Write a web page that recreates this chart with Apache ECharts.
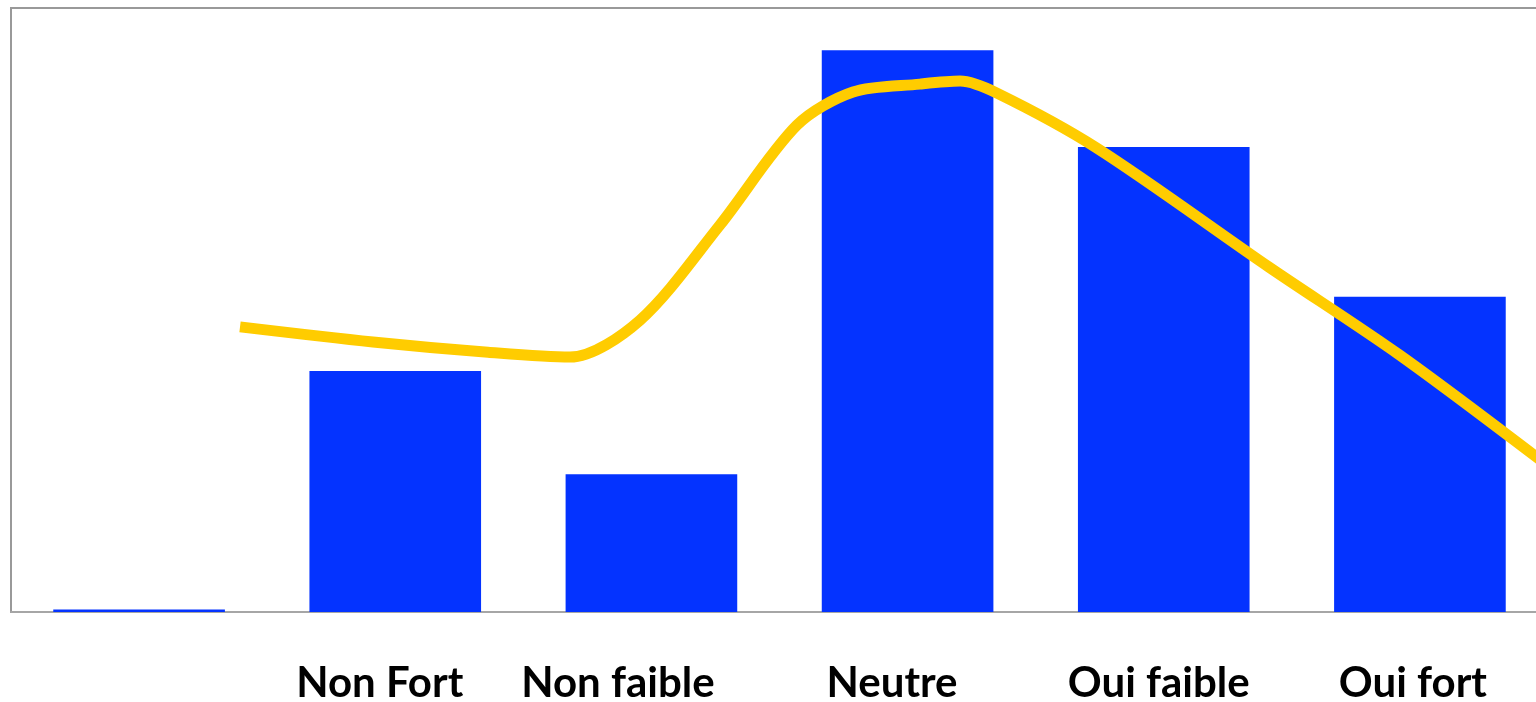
<!DOCTYPE html>
<html>
<head>
<meta charset="utf-8">
<script src="https://cdn.jsdelivr.net/npm/echarts@6/dist/echarts.min.js"></script>
<style>
html,body{margin:0;padding:0;background:#fff;}
#chart{width:1536px;height:702px;}
</style>
</head>
<body>
<div id="chart"></div>
<script>
// Categories (first one has no label)
const categories = ['', 'Non Fort', 'Non faible', 'Neutre', 'Oui faible', 'Oui fort'];
// Bar values (0-100 scale)
const barValues = [0.4, 39.9, 22.8, 93.0, 77.0, 52.2];
// Smoothed trend line: x positions in category units (0 = left edge, 6 = right edge), y values
const lineX = [0.894, 1.413, 1.862, 2.182, 2.455, 2.768, 3.068, 3.287, 3.548, 3.705, 3.849, 4.239, 4.911, 5.422, 6.0];
const lineY = [47.2, 44.7, 43.0, 42.2, 48.3, 64.1, 80.6, 86.1, 87.4, 87.9, 85.9, 76.8, 57.1, 42.5, 24.2];

const lineData = lineX.map((x, i) => [x, lineY[i]]);
const labelStyleKeys = ['p0', 'p1', 'p2', 'p3', 'p4', 'p5'];
const baseFont = { fontFamily: 'Lato', fontWeight: 'bold', fontSize: 42, color: '#000' };

const chart = echarts.init(document.getElementById('chart'));
chart.setOption({
  animation: false,
  grid: {
    left: 11, width: 1537, top: 8, bottom: 90,
    outerBoundsMode: 'none',
    containLabel: false,
    show: true, borderColor: '#999', borderWidth: 2, backgroundColor: '#fff'
  },
  xAxis: [
    {
      type: 'category',
      data: categories,
      axisLine: { show: true, lineStyle: { color: '#a6a6a6', width: 2 } },
      axisTick: { show: false },
      splitLine: { show: false },
      axisLabel: {
        margin: 50,
        interval: 0,
        hideOverlap: false,
        formatter: function (v, i) { return v ? '{' + labelStyleKeys[i] + '|' + v + '}' : ''; },
        rich: {
          p0: Object.assign({}, baseFont),
          p1: Object.assign({}, baseFont, { padding: [0, 31, 0, 0] }),
          p2: Object.assign({}, baseFont, { padding: [0, 67, 0, 0] }),
          p3: Object.assign({}, baseFont, { padding: [0, 31, 0, 0] }),
          p4: Object.assign({}, baseFont, { padding: [0, 10, 0, 0] }),
          p5: Object.assign({}, baseFont, { padding: [0, 14, 0, 0] })
        }
      }
    },
    {
      type: 'value',
      min: 0, max: 6,
      show: false,
      splitLine: { show: false }
    }
  ],
  yAxis: {
    type: 'value',
    min: 0, max: 100,
    show: false,
    splitLine: { show: false }
  },
  series: [
    {
      type: 'bar',
      data: barValues,
      barWidth: '67%',
      itemStyle: { color: '#0433ff' },
      z: 2
    },
    {
      type: 'line',
      xAxisIndex: 1,
      data: lineData,
      smooth: 0.3,
      showSymbol: false,
      symbol: 'none',
      lineStyle: { color: '#ffcc00', width: 11, cap: 'butt' },
      z: 3
    }
  ]
});
</script>
</body>
</html>
